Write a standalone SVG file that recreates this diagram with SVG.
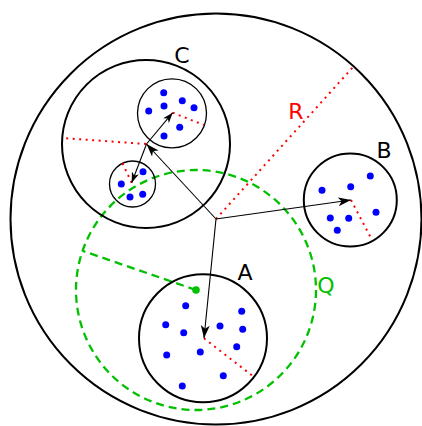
<svg xmlns="http://www.w3.org/2000/svg" width="422" height="426" viewBox="0 0 422 426">
<style>
.big{fill:none;stroke:#000;stroke-width:2}
.sub{fill:none;stroke:#000;stroke-width:1.3}
.pt{fill:#0000ff}
.rad{fill:none;stroke:#ff0000;stroke-width:2;stroke-dasharray:2 4.5}
.q{fill:none;stroke:#00c000;stroke-width:2.3;stroke-dasharray:8 5}
.arr{fill:none;stroke:#000;stroke-width:1.1;marker-end:url(#ah)}
.arrs{fill:none;stroke:#000;stroke-width:1.1;marker-end:url(#ahs)}
.lbl{font-family:"DejaVu Sans",sans-serif;font-size:22px;text-anchor:middle}
</style>
<defs>
<marker id="ah" markerUnits="userSpaceOnUse" markerWidth="14" markerHeight="10" refX="13" refY="4.5" orient="auto" viewBox="0 0 14 10">
<path d="M0,0 L13,4.5 L0,9 L3.5,4.5 z" fill="#000"/>
</marker>
<marker id="ahs" markerUnits="userSpaceOnUse" markerWidth="12" markerHeight="8" refX="10.5" refY="3.75" orient="auto" viewBox="0 0 12 8">
<path d="M0,0 L10.5,3.75 L0,7.5 L3,3.75 z" fill="#000"/>
</marker>
</defs>
<g id="root">
<circle class="big" cx="216" cy="219" r="205.5"/>
<line class="rad" x1="216" y1="219" x2="354" y2="66"/>
<text class="lbl" x="296" y="119" fill="#ff0000">R</text>
</g>
<g id="Q">
<circle class="q" cx="196" cy="290" r="120"/>
<line class="q" x1="196" y1="290" x2="83" y2="251"/>
<circle cx="196" cy="290" r="3.8" fill="#00c000"/>
<text class="lbl" x="326" y="293" fill="#00c000">Q</text>
</g>
<g id="C">
<circle class="big" cx="146" cy="144" r="84"/>
<line class="rad" x1="146" y1="144" x2="62" y2="138"/>
<text class="lbl" x="182" y="63">C</text>
</g>
<g id="C1">
<circle class="sub" cx="172" cy="113.3" r="34.5"/>
<line class="rad" x1="172.7" y1="112.7" x2="204" y2="125"/>
<circle class="pt" cx="163.7" cy="92.7" r="3.5"/>
<circle class="pt" cx="164" cy="106" r="3.5"/>
<circle class="pt" cx="182.3" cy="100.7" r="3.5"/>
<circle class="pt" cx="194" cy="107.7" r="3.5"/>
<circle class="pt" cx="148.7" cy="111" r="3.5"/>
<circle class="pt" cx="179.7" cy="127.3" r="3.5"/>
<circle class="pt" cx="164" cy="136" r="3.5"/>
</g>
<g id="C2">
<circle class="sub" cx="132.5" cy="184" r="23"/>
<line class="rad" x1="131.7" y1="182.7" x2="122" y2="162.5"/>
<circle class="pt" cx="143" cy="171.7" r="3.5"/>
<circle class="pt" cx="121.3" cy="184" r="3.5"/>
<circle class="pt" cx="130" cy="197" r="3.5"/>
<circle class="pt" cx="142.7" cy="194.3" r="3.5"/>
</g>
<g id="B">
<circle class="big" cx="350.3" cy="200" r="46.5"/>
<line class="rad" x1="351" y1="200" x2="372" y2="240"/>
<circle class="pt" cx="370.3" cy="176" r="3.5"/>
<circle class="pt" cx="350.7" cy="186.7" r="3.5"/>
<circle class="pt" cx="322" cy="190.3" r="3.5"/>
<circle class="pt" cx="376" cy="212.3" r="3.5"/>
<circle class="pt" cx="330.3" cy="218" r="3.5"/>
<circle class="pt" cx="348.7" cy="218.3" r="3.5"/>
<circle class="pt" cx="337.3" cy="230.3" r="3.5"/>
<text class="lbl" x="384" y="158">B</text>
</g>
<g id="A">
<circle class="big" cx="203" cy="338.3" r="64"/>
<line class="rad" x1="204" y1="338.3" x2="254" y2="377"/>
<circle class="pt" cx="185.7" cy="305.7" r="3.5"/>
<circle class="pt" cx="241.7" cy="311.3" r="3.5"/>
<circle class="pt" cx="165.7" cy="324.7" r="3.5"/>
<circle class="pt" cx="183.7" cy="332.7" r="3.5"/>
<circle class="pt" cx="220" cy="326" r="3.5"/>
<circle class="pt" cx="242.7" cy="329.3" r="3.5"/>
<circle class="pt" cx="166.7" cy="355" r="3.5"/>
<circle class="pt" cx="200.3" cy="352" r="3.5"/>
<circle class="pt" cx="236.7" cy="346.7" r="3.5"/>
<circle class="pt" cx="223.3" cy="375.7" r="3.5"/>
<circle class="pt" cx="182.3" cy="386" r="3.5"/>
<text class="lbl" x="245" y="280">A</text>
</g>
<g id="connectors">
<line class="arr" x1="216" y1="219" x2="146.5" y2="144"/>
<line class="arr" x1="216" y1="219" x2="351" y2="200"/>
<line class="arr" x1="216" y1="219" x2="204" y2="338.3"/>
<line class="arrs" x1="146.5" y1="144" x2="172.7" y2="112.7"/>
<line class="arrs" x1="146.5" y1="144" x2="131.7" y2="182.7"/>
</g>
</svg>
